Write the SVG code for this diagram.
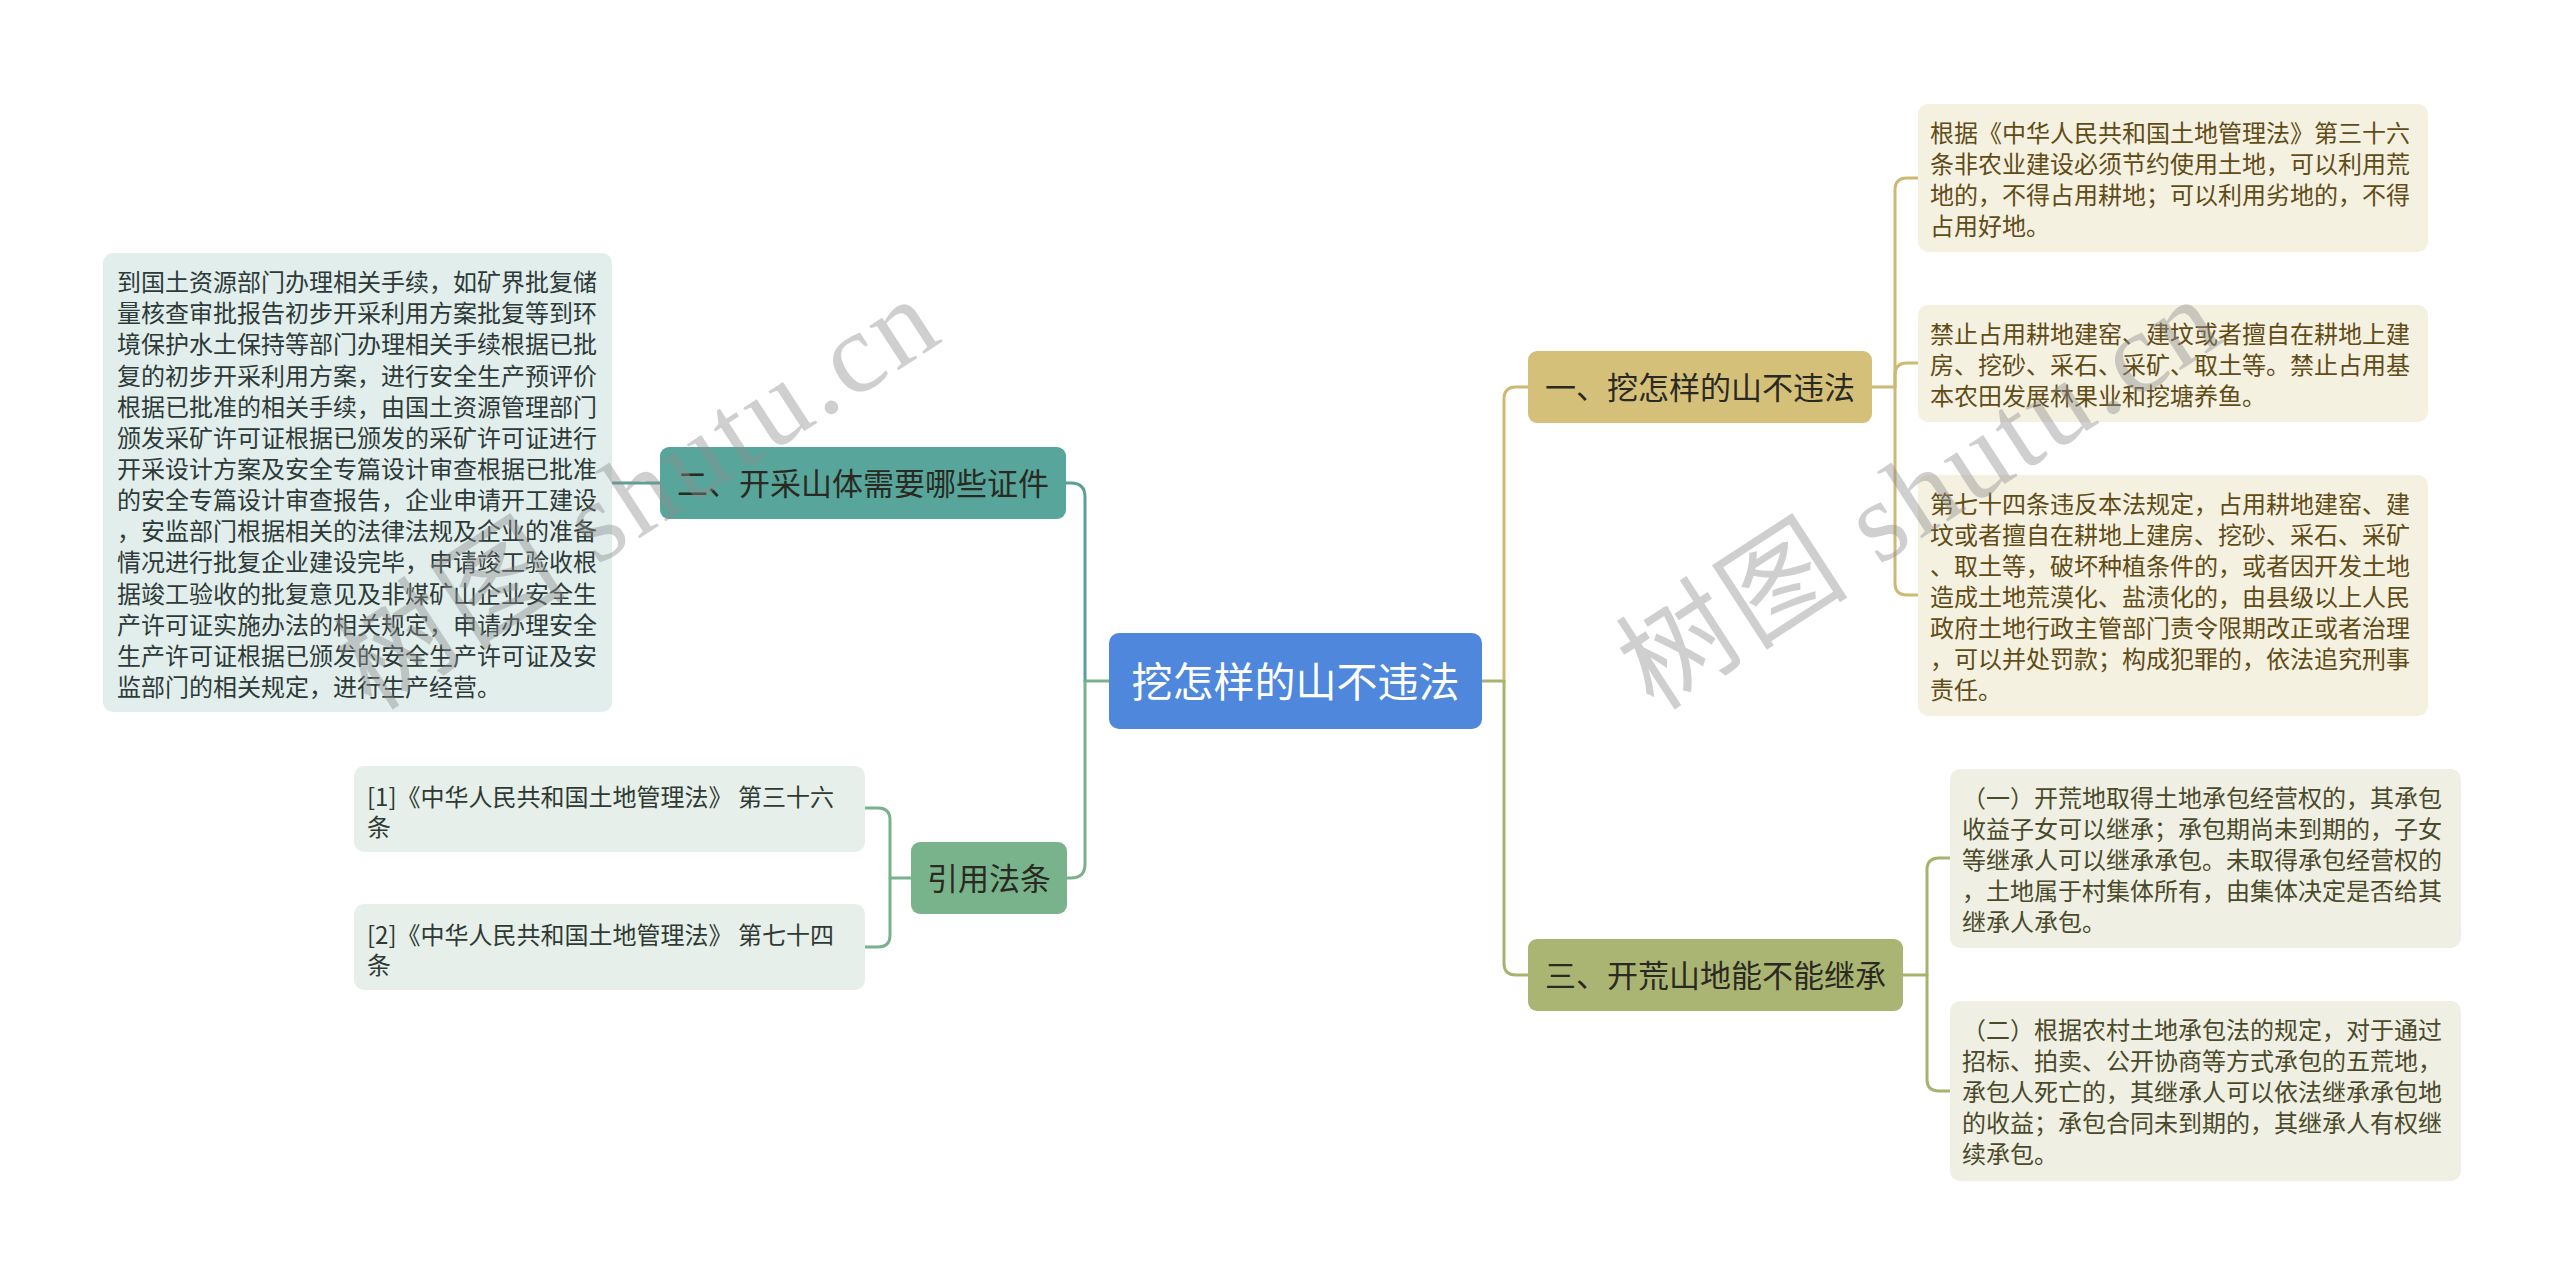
<svg xmlns="http://www.w3.org/2000/svg" width="2560" height="1285" viewBox="0 0 2560 1285">
<style>
.c{fill:none;stroke-width:3;stroke-linecap:round;stroke-linejoin:round}
.gold{stroke:#cdb973}.olive{stroke:#a9b16e}.teal{stroke:#5aa096}.green{stroke:#79b18c}
text{font-family:"Noto Sans CJK SC","Noto Sans",sans-serif}
.lf{font-size:24px}
.n1{font-size:31px;fill:#2a2a22;text-anchor:middle}
.gl{fill:#f5f1e0}.gt{fill:#5f4c17}
.ol{fill:#eff0e3}.ot{fill:#4a4a2b}
.tl{fill:#e1eeec}.tt{fill:#2e3a38}
.grl{fill:#e6efe9}.grt{fill:#2e3a33}
.wm{font-size:115px;letter-spacing:4px;fill:#8c8c8c;fill-opacity:0.42}
</style>
<rect width="2560" height="1285" fill="#ffffff"/>
<g id="connectors">
<path class="c olive" d="M1482,681 H1504"/>
<path class="c gold" d="M1504,681 V399 Q1504,387 1516,387 H1528"/>
<path class="c olive" d="M1504,681 V963 Q1504,975 1516,975 H1528"/>
<path class="c gold" d="M1872,387 H1895 V190 Q1895,178 1907,178 H1918"/>
<path class="c gold" d="M1895,387 V375 Q1895,363 1907,363 H1918"/>
<path class="c gold" d="M1895,387 V583 Q1895,595 1907,595 H1918"/>
<path class="c olive" d="M1903,975 H1927 V870 Q1927,858 1939,858 H1950"/>
<path class="c olive" d="M1927,975 V1079 Q1927,1091 1939,1091 H1950"/>
<path class="c green" d="M1109,681 H1085"/>
<path class="c teal" d="M1085,681 V497 Q1085,483 1071,483 H1066"/>
<path class="c green" d="M1085,681 V864 Q1085,878 1071,878 H1067"/>
<path class="c teal" d="M660,483 H612"/>
<path class="c green" d="M911,878 H890 V820 Q890,808 878,808 H865"/>
<path class="c green" d="M890,878 V935 Q890,947 878,947 H865"/>
</g>
<g id="root">
<rect x="1109" y="633" width="373" height="96" rx="10" fill="#4e87db"/>
<text x="1295.5" y="696.5" font-size="41" fill="#ffffff" text-anchor="middle">挖怎样的山不违法</text>
</g>
<g id="n-yi">
<rect x="1528" y="351" width="344" height="72" rx="9" fill="#d5c07a"/>
<text class="n1" x="1700" y="399">一、挖怎样的山不违法</text>
</g>
<g id="n-san">
<rect x="1528" y="939" width="375" height="72" rx="9" fill="#aab473"/>
<text class="n1" x="1715.5" y="987">三、开荒山地能不能继承</text>
</g>
<g id="n-er">
<rect x="660" y="447" width="406" height="72" rx="9" fill="#57a59b"/>
<text class="n1" x="863" y="495">二、开采山体需要哪些证件</text>
</g>
<g id="n-yinyong">
<rect x="911" y="842" width="156" height="72" rx="9" fill="#78b38c"/>
<text class="n1" x="989" y="890">引用法条</text>
</g>
<g id="leaf-gold-1">
<rect class="gl" x="1918" y="104" width="510" height="148" rx="10"/>
<text class="lf gt"><tspan x="1930" y="142">根据《中华人民共和国土地管理法》第三十六</tspan><tspan x="1930" y="173">条非农业建设必须节约使用土地，可以利用荒</tspan><tspan x="1930" y="204">地的，不得占用耕地；可以利用劣地的，不得</tspan><tspan x="1930" y="235">占用好地。</tspan></text>
</g>
<g id="leaf-gold-2">
<rect class="gl" x="1918" y="305" width="510" height="117" rx="10"/>
<text class="lf gt"><tspan x="1930" y="343">禁止占用耕地建窑、建坟或者擅自在耕地上建</tspan><tspan x="1930" y="374">房、挖砂、采石、采矿、取土等。禁止占用基</tspan><tspan x="1930" y="405">本农田发展林果业和挖塘养鱼。</tspan></text>
</g>
<g id="leaf-gold-3">
<rect class="gl" x="1918" y="475" width="510" height="241" rx="10"/>
<text class="lf gt"><tspan x="1930" y="513">第七十四条违反本法规定，占用耕地建窑、建</tspan><tspan x="1930" y="544">坟或者擅自在耕地上建房、挖砂、采石、采矿</tspan><tspan x="1930" y="575">、取土等，破坏种植条件的，或者因开发土地</tspan><tspan x="1930" y="606">造成土地荒漠化、盐渍化的，由县级以上人民</tspan><tspan x="1930" y="637">政府土地行政主管部门责令限期改正或者治理</tspan><tspan x="1930" y="668">，可以并处罚款；构成犯罪的，依法追究刑事</tspan><tspan x="1930" y="699">责任。</tspan></text>
</g>
<g id="leaf-olive-1">
<rect class="ol" x="1950" y="769" width="511" height="179" rx="10"/>
<text class="lf ot"><tspan x="1962" y="807">（一）开荒地取得土地承包经营权的，其承包</tspan><tspan x="1962" y="838">收益子女可以继承；承包期尚未到期的，子女</tspan><tspan x="1962" y="869">等继承人可以继承承包。未取得承包经营权的</tspan><tspan x="1962" y="900">，土地属于村集体所有，由集体决定是否给其</tspan><tspan x="1962" y="931">继承人承包。</tspan></text>
</g>
<g id="leaf-olive-2">
<rect class="ol" x="1950" y="1001" width="511" height="180" rx="10"/>
<text class="lf ot"><tspan x="1962" y="1039">（二）根据农村土地承包法的规定，对于通过</tspan><tspan x="1962" y="1070">招标、拍卖、公开协商等方式承包的五荒地，</tspan><tspan x="1962" y="1101">承包人死亡的，其继承人可以依法继承承包地</tspan><tspan x="1962" y="1132">的收益；承包合同未到期的，其继承人有权继</tspan><tspan x="1962" y="1163">续承包。</tspan></text>
</g>
<g id="leaf-teal-1">
<rect class="tl" x="103" y="253" width="509" height="459" rx="10"/>
<text class="lf tt"><tspan x="117" y="291">到国土资源部门办理相关手续，如矿界批复储</tspan><tspan x="117" y="322.2">量核查审批报告初步开采利用方案批复等到环</tspan><tspan x="117" y="353.3">境保护水土保持等部门办理相关手续根据已批</tspan><tspan x="117" y="384.5">复的初步开采利用方案，进行安全生产预评价</tspan><tspan x="117" y="415.6">根据已批准的相关手续，由国土资源管理部门</tspan><tspan x="117" y="446.8">颁发采矿许可证根据已颁发的采矿许可证进行</tspan><tspan x="117" y="477.9">开采设计方案及安全专篇设计审查根据已批准</tspan><tspan x="117" y="509.1">的安全专篇设计审查报告，企业申请开工建设</tspan><tspan x="117" y="540.2">，安监部门根据相关的法律法规及企业的准备</tspan><tspan x="117" y="571.4">情况进行批复企业建设完毕，申请竣工验收根</tspan><tspan x="117" y="602.5">据竣工验收的批复意见及非煤矿山企业安全生</tspan><tspan x="117" y="633.7">产许可证实施办法的相关规定，申请办理安全</tspan><tspan x="117" y="664.8">生产许可证根据已颁发的安全生产许可证及安</tspan><tspan x="117" y="696">监部门的相关规定，进行生产经营。</tspan></text>
</g>
<g id="leaf-green-1">
<rect class="grl" x="354" y="766" width="511" height="86" rx="10"/>
<text class="lf grt"><tspan x="367" y="806">[1]《中华人民共和国土地管理法》 第三十六</tspan><tspan x="367" y="836">条</tspan></text>
</g>
<g id="leaf-green-2">
<rect class="grl" x="354" y="904" width="511" height="86" rx="10"/>
<text class="lf grt"><tspan x="367" y="944">[2]《中华人民共和国土地管理法》 第七十四</tspan><tspan x="367" y="974">条</tspan></text>
</g>
<g id="watermark">
<text class="wm" transform="translate(372,712) rotate(-33)">树图 <tspan font-family="Liberation Serif, serif">shutu.cn</tspan></text>
<text class="wm" transform="translate(1654,712) rotate(-33)">树图 <tspan font-family="Liberation Serif, serif">shutu.cn</tspan></text>
</g>
</svg>
